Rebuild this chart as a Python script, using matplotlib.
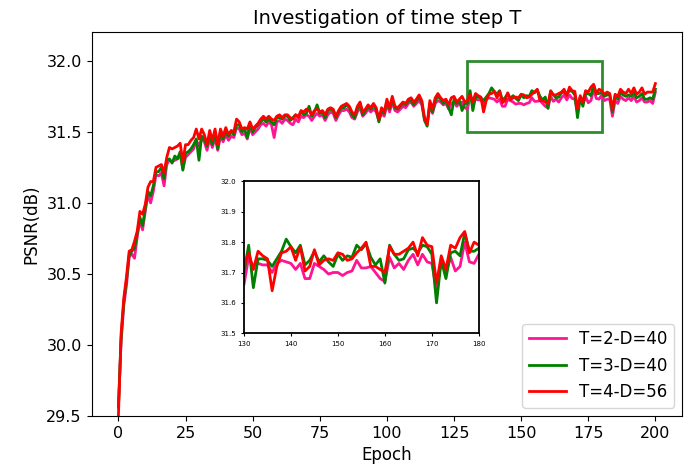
import matplotlib.pyplot as plt
from matplotlib.patches import Rectangle

# Epoch axis
epochs = list(range(201))

# PSNR per epoch
psnr_t2_d40 = [
    29.57, 30.02, 30.28, 30.42, 30.62, 30.64, 30.61, 30.76, 30.88, 30.81,
    30.94, 31.06, 31.00, 31.08, 31.20, 31.19, 31.21, 31.12, 31.27, 31.30,
    31.29, 31.30, 31.31, 31.34, 31.24, 31.32, 31.34, 31.36, 31.38, 31.44,
    31.40, 31.45, 31.43, 31.37, 31.45, 31.39, 31.46, 31.37, 31.47, 31.43,
    31.48, 31.44, 31.47, 31.46, 31.53, 31.52, 31.48, 31.49, 31.45, 31.53,
    31.48, 31.50, 31.52, 31.55, 31.56, 31.54, 31.57, 31.55, 31.46, 31.57,
    31.58, 31.56, 31.59, 31.58, 31.56, 31.55, 31.59, 31.57, 31.61, 31.60,
    31.62, 31.61, 31.58, 31.61, 31.63, 31.61, 31.62, 31.58, 31.62, 31.64,
    31.63, 31.58, 31.62, 31.65, 31.65, 31.66, 31.64, 31.60, 31.59, 31.64,
    31.67, 31.61, 31.63, 31.66, 31.64, 31.66, 31.64, 31.58, 31.63, 31.61,
    31.69, 31.64, 31.71, 31.65, 31.64, 31.66, 31.68, 31.67, 31.70, 31.71,
    31.68, 31.70, 31.72, 31.69, 31.59, 31.56, 31.68, 31.63, 31.70, 31.72,
    31.71, 31.69, 31.70, 31.66, 31.70, 31.71, 31.68, 31.70, 31.71, 31.67,
    31.66, 31.75, 31.72, 31.73, 31.725, 31.725, 31.70, 31.73, 31.74, 31.735,
    31.73, 31.71, 31.73, 31.68, 31.68, 31.73, 31.72, 31.71, 31.695, 31.70,
    31.70, 31.69, 31.70, 31.705, 31.74, 31.715, 31.715, 31.72, 31.70, 31.68,
    31.67, 31.75, 31.715, 31.73, 31.71, 31.74, 31.76, 31.725, 31.76, 31.735,
    31.73, 31.64, 31.74, 31.70, 31.75, 31.705, 31.72, 31.80, 31.735, 31.73,
    31.76, 31.72, 31.73, 31.73, 31.61, 31.72, 31.70, 31.75, 31.73, 31.72,
    31.74, 31.72, 31.75, 31.71, 31.72, 31.74, 31.71, 31.71, 31.72, 31.70,
    31.78,
]

psnr_t3_d40 = [
    29.56, 30.05, 30.30, 30.45, 30.63, 30.66, 30.68, 30.78, 30.90, 30.84,
    30.96, 31.08, 31.05, 31.12, 31.22, 31.22, 31.25, 31.17, 31.30, 31.31,
    31.28, 31.33, 31.31, 31.36, 31.23, 31.35, 31.36, 31.38, 31.41, 31.45,
    31.30, 31.47, 31.45, 31.40, 31.47, 31.41, 31.49, 31.38, 31.50, 31.45,
    31.50, 31.47, 31.50, 31.48, 31.55, 31.55, 31.50, 31.52, 31.46, 31.56,
    31.50, 31.53, 31.55, 31.57, 31.59, 31.57, 31.59, 31.57, 31.55, 31.60,
    31.60, 31.59, 31.61, 31.61, 31.58, 31.60, 31.62, 31.61, 31.64, 31.62,
    31.63, 31.68, 31.61, 31.64, 31.69, 31.63, 31.64, 31.60, 31.65, 31.66,
    31.65, 31.60, 31.64, 31.67, 31.67, 31.69, 31.67, 31.62, 31.60, 31.66,
    31.70, 31.62, 31.65, 31.68, 31.66, 31.69, 31.66, 31.57, 31.65, 31.63,
    31.71, 31.66, 31.73, 31.67, 31.66, 31.68, 31.70, 31.69, 31.72, 31.72,
    31.69, 31.72, 31.74, 31.71, 31.58, 31.54, 31.70, 31.64, 31.72, 31.75,
    31.73, 31.70, 31.72, 31.67, 31.62, 31.73, 31.70, 31.72, 31.65, 31.70,
    31.70, 31.79, 31.65, 31.745, 31.745, 31.74, 31.72, 31.745, 31.77, 31.81,
    31.785, 31.765, 31.79, 31.725, 31.74, 31.77, 31.735, 31.755, 31.735, 31.72,
    31.76, 31.74, 31.755, 31.75, 31.79, 31.775, 31.795, 31.75, 31.725, 31.745,
    31.665, 31.79, 31.76, 31.74, 31.745, 31.775, 31.78, 31.765, 31.79, 31.785,
    31.76, 31.60, 31.74, 31.68, 31.765, 31.77, 31.755, 31.83, 31.77, 31.77,
    31.78, 31.75, 31.76, 31.76, 31.64, 31.75, 31.73, 31.78, 31.76, 31.75,
    31.76, 31.75, 31.78, 31.74, 31.75, 31.77, 31.73, 31.73, 31.74, 31.73,
    31.80,
]

psnr_t4_d56 = [
    29.50, 30.08, 30.33, 30.48, 30.66, 30.67, 30.73, 30.80, 30.94, 30.92,
    30.99, 31.11, 31.15, 31.15, 31.25, 31.26, 31.27, 31.21, 31.32, 31.39,
    31.38, 31.39, 31.40, 31.42, 31.29, 31.41, 31.41, 31.44, 31.46, 31.52,
    31.45, 31.52, 31.48, 31.41, 31.51, 31.44, 31.52, 31.41, 31.52, 31.47,
    31.53, 31.48, 31.51, 31.50, 31.59, 31.57, 31.52, 31.53, 31.52, 31.57,
    31.52, 31.54, 31.56, 31.59, 31.61, 31.59, 31.61, 31.59, 31.58, 31.61,
    31.62, 31.60, 31.62, 31.62, 31.60, 31.59, 31.62, 31.60, 31.65, 31.64,
    31.66, 31.65, 31.62, 31.65, 31.66, 31.64, 31.65, 31.62, 31.66, 31.67,
    31.66, 31.61, 31.65, 31.68, 31.69, 31.70, 31.68, 31.64, 31.62, 31.68,
    31.71, 31.64, 31.66, 31.69, 31.67, 31.70, 31.67, 31.59, 31.67, 31.64,
    31.73, 31.67, 31.75, 31.68, 31.67, 31.69, 31.71, 31.70, 31.73, 31.74,
    31.71, 31.73, 31.76, 31.72, 31.60, 31.55, 31.72, 31.66, 31.74, 31.77,
    31.74, 31.72, 31.73, 31.69, 31.74, 31.75, 31.71, 31.73, 31.75, 31.71,
    31.72, 31.765, 31.71, 31.77, 31.755, 31.745, 31.64, 31.72, 31.765, 31.77,
    31.785, 31.74, 31.785, 31.705, 31.72, 31.775, 31.725, 31.74, 31.745, 31.74,
    31.765, 31.76, 31.74, 31.745, 31.765, 31.78, 31.80, 31.72, 31.72, 31.71,
    31.70, 31.785, 31.76, 31.76, 31.77, 31.78, 31.80, 31.755, 31.815, 31.79,
    31.785, 31.665, 31.755, 31.71, 31.79, 31.78, 31.815, 31.835, 31.765, 31.80,
    31.79, 31.765, 31.78, 31.77, 31.66, 31.765, 31.75, 31.80, 31.78, 31.77,
    31.80, 31.77, 31.81, 31.765, 31.78, 31.81, 31.765, 31.78, 31.78, 31.78,
    31.84,
]

series_labels = ["T=2-D=40", "T=3-D=40", "T=4-D=56"]
series_colors = ["deeppink", "green", "red"]
all_series = [psnr_t2_d40, psnr_t3_d40, psnr_t4_d56]

# zoom window
zoom_x = (130, 180)
zoom_y = (31.5, 32.0)

fig = plt.figure(figsize=(6.99, 4.70), dpi=100)
ax = fig.add_axes([0.131, 0.115, 0.845, 0.816])

for vals, lab, col in zip(all_series, series_labels, series_colors):
    ax.plot(epochs, vals, color=col, linewidth=2, label=lab)

ax.set_xlim(-10, 210)
ax.set_ylim(29.5, 32.2)
ax.set_xticks([0, 25, 50, 75, 100, 125, 150, 175, 200])
ax.set_yticks([29.5, 30.0, 30.5, 31.0, 31.5, 32.0])
ax.tick_params(labelsize=11.5)
ax.set_title("Investigation of time step T", fontsize=14)
ax.set_xlabel("Epoch", fontsize=12)
ax.set_ylabel("PSNR(dB)", fontsize=12)
ax.legend(loc="lower right", fontsize=12, handlelength=2.2)

# box marking the zoomed area
ax.add_patch(Rectangle((zoom_x[0], zoom_y[0]), zoom_x[1] - zoom_x[0], zoom_y[1] - zoom_y[0],
                       fill=False, edgecolor="#2e8b2e", linewidth=2))

# inset
axin = fig.add_axes([0.349, 0.291, 0.336, 0.323])
for vals, col in zip(all_series, series_colors):
    axin.plot(epochs, vals, color=col, linewidth=2)
axin.set_xlim(*zoom_x)
axin.set_ylim(*zoom_y)
axin.set_xticks([130, 140, 150, 160, 170, 180])
axin.set_yticks([31.5, 31.6, 31.7, 31.8, 31.9, 32.0])
axin.tick_params(labelsize=5, length=2, width=0.8)
for sp in axin.spines.values():
    sp.set_linewidth(1.3)

fig.savefig("out.png", dpi=100)
